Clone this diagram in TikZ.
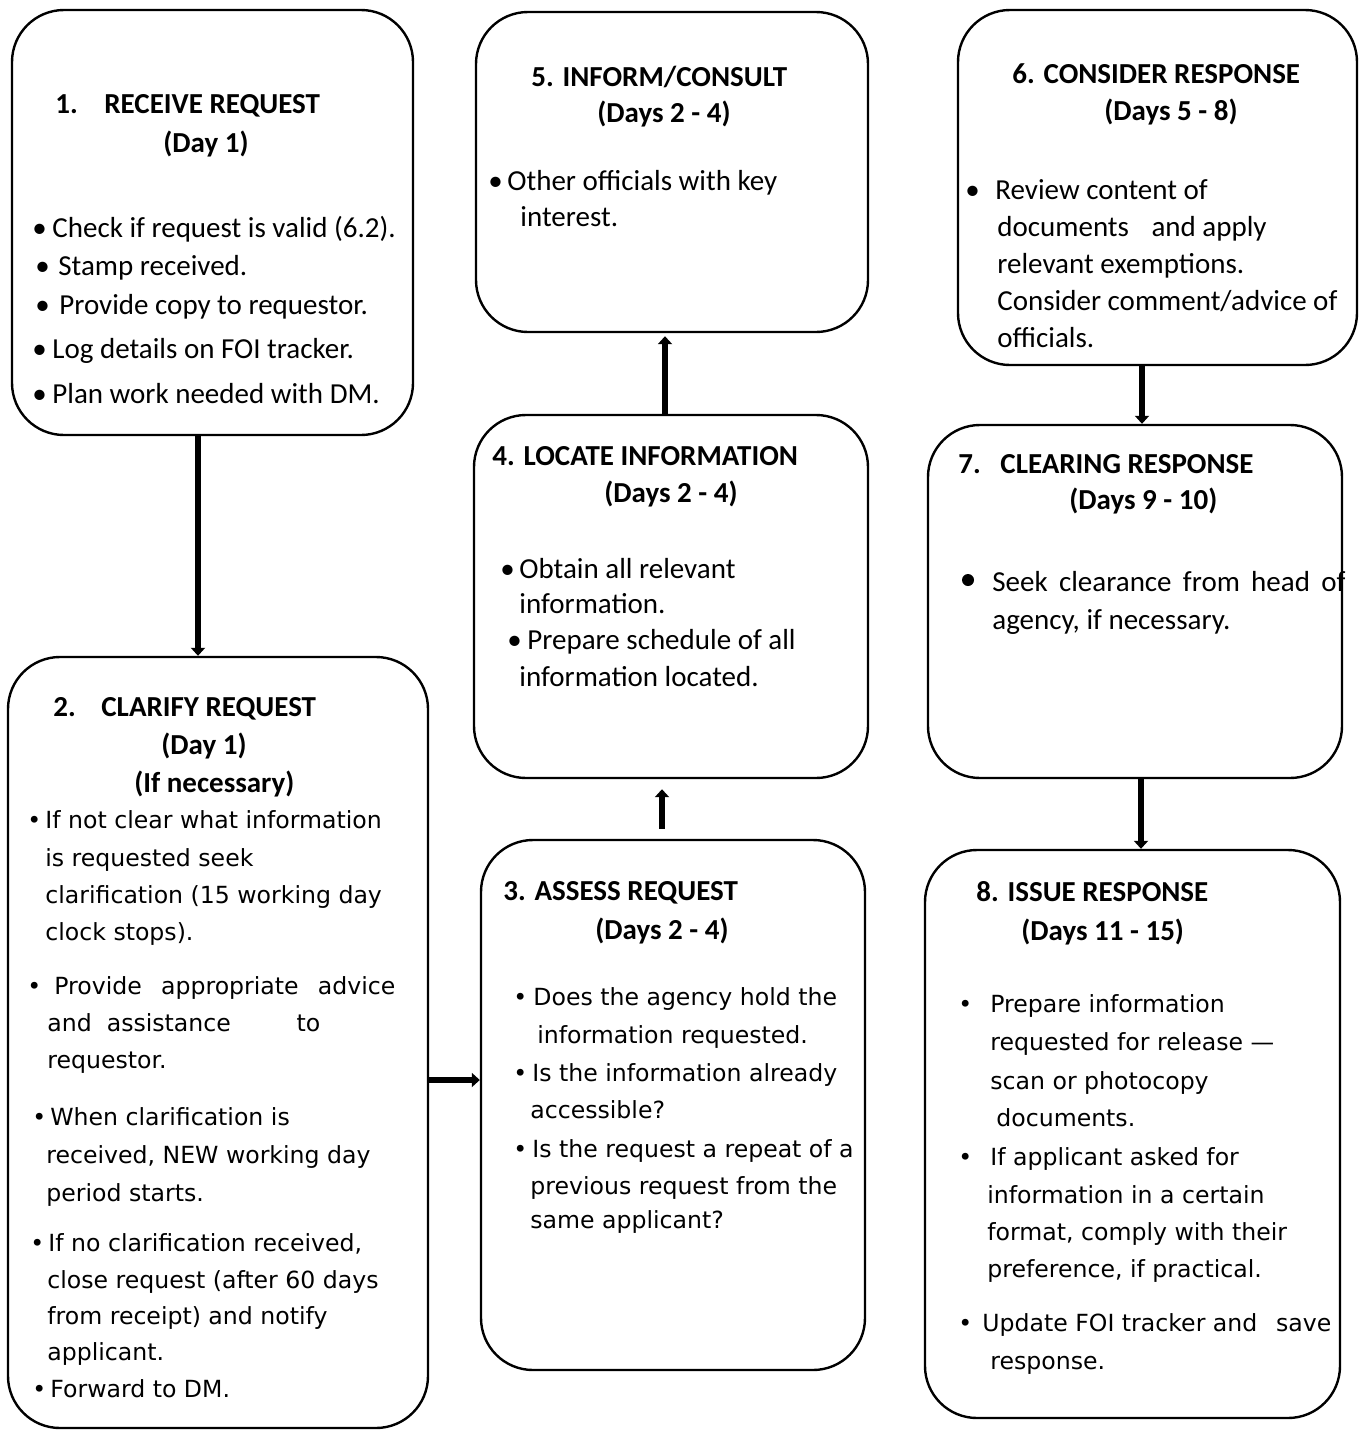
\documentclass[tikz,border=0pt]{standalone}
\usepackage{fontspec}
\setmainfont{Carlito}
\newfontfamily\dvsans{DejaVu Sans}
\usetikzlibrary{arrows.meta}

\tikzset{
	box/.style={draw, line width=1.2pt, rounded corners=26pt, inner sep=0pt},
	ttl/.style={anchor=base west, inner sep=0pt, font=\fontsize{14.5}{17}\selectfont\bfseries},
	txt/.style={anchor=base west, inner sep=0pt, font=\fontsize{14.5}{17}\selectfont},
	vtxt/.style={anchor=base west, inner sep=0pt, font=\dvsans\fontsize{11.8}{14}\selectfont},
	dot/.style={circle, fill=black, inner sep=0pt, minimum size=6pt},
	flow/.style={line width=3pt, -{Triangle[width=7pt,length=4pt]}}
}

\begin{document}
\begin{tikzpicture}[x=0.5pt,y=-0.5pt]
	\useasboundingbox (0,0) rectangle (1360,1430);
	% boxes
	\node[box, minimum width=200.5pt, minimum height=212.5pt] (s1) at (212.5,222.5) {};
	\node[box, minimum width=210pt, minimum height=385.5pt] (s2) at (218,1042.5) {};
	\node[box, minimum width=192pt, minimum height=265pt] (s3) at (673,1105) {};
	\node[box, minimum width=197pt, minimum height=181.5pt] (s4) at (671,596.5) {};
	\node[box, minimum width=196pt, minimum height=160pt] (s5) at (672,172) {};
	\node[box, minimum width=199.5pt, minimum height=177.5pt] (s6) at (1157.5,187.5) {};
	\node[box, minimum width=207pt, minimum height=176.5pt] (s7) at (1135,601.5) {};
	\node[box, minimum width=207.5pt, minimum height=284pt] (s8) at (1132.5,1134) {};

	% arrows
	\draw[flow] ([xshift=-7.25pt]s1.south) -- ([xshift=-7.25pt]s1.south |- s2.north);
	\draw[flow] ([yshift=-18.75pt]s2.east) -- ([yshift=-18.75pt]s2.east -| s3.west);
	\draw[flow, shorten <=5pt, shorten >=5pt] ([xshift=-5.5pt]s3.north) -- ([xshift=-5.5pt]s3.north |- s4.south);
	\draw[flow, shorten >=1.5pt] ([xshift=-3pt]s4.north) -- ([xshift=-3pt]s4.north |- s5.south);
	\draw[flow] ([xshift=-7.75pt]s6.south) -- ([xshift=-7.75pt]s6.south |- s7.north);
	\draw[flow] ([xshift=3pt]s7.south) -- ([xshift=3pt]s7.south |- s8.north);

	% 1
	\foreach \x/\y/\t [count=\i] in {55/113/1., 104/113/RECEIVE REQUEST, 163/152/(Day 1)}
		\node[ttl] (h1-\i) at (\x,\y) {\t};
	\foreach \x/\y/\t [count=\i] in {32/237/•, 52/237/{Check if request is valid (6.2).},
		35/275/•, 58/275/{Stamp received.}, 35/314/•, 59/314/{Provide copy to requestor.},
		32/358/•, 52/358/{Log details on FOI tracker.}, 32/403/•, 52/403/{Plan work needed with DM.}}
		\node[txt] (t1-\i) at (\x,\y) {\t};

	% 2
	\foreach \x/\y/\t [count=\i] in {53/716/2., 101/716/CLARIFY REQUEST, 161/754/(Day 1), 134/792/(If necessary)}
		\node[ttl] (h2-\i) at (\x,\y) {\t};
	\foreach \x/\y/\t [count=\i] in {27/828/•, 45/828/{If not clear what information},
		45/866/{is requested seek}, 45/903/{clarification (15 working day}, 45/940/{clock stops).},
		27/994/•, 54/994/{\makebox[170.5pt][s]{Provide appropriate advice}},
		47/1031/{\makebox[136.5pt][s]{and\ \ assistance\hfill to}}, 47/1068/{requestor.},
		32/1125/•, 50/1125/{When clarification is}, 46/1163/{received, NEW working day},
		46/1201/{period starts.}, 30/1251/•, 48/1251/{If no clarification received,},
		47/1288/{close request (after 60 days}, 47/1324/{from receipt) and notify},
		47/1360/{applicant.}, 32/1397/•, 50/1397/{Forward to DM.}}
		\node[vtxt] (t2-\i) at (\x,\y) {\t};

	% 3
	\foreach \x/\y/\t [count=\i] in {503/900/3. ASSESS REQUEST, 595/939/(Days 2 - 4)}
		\node[ttl] (h3-\i) at (\x,\y) {\t};
	\foreach \x/\y/\t [count=\i] in {513/1005/•, 533/1005/{Does the agency hold the},
		537/1043/{information requested.}, 513/1081/•, 532/1081/{Is the information already},
		530/1118/{accessible?}, 513/1157/•, 532/1157/{Is the request a repeat of a},
		530/1194/{previous request from the}, 530/1228/{same applicant?}}
		\node[vtxt] (t3-\i) at (\x,\y) {\t};

	% 4
	\foreach \x/\y/\t [count=\i] in {492/465/4. LOCATE INFORMATION, 604/502/(Days 2 - 4)}
		\node[ttl] (h4-\i) at (\x,\y) {\t};
	\foreach \x/\y/\t [count=\i] in {500/578/•, 519/578/{Obtain all relevant}, 519/613/{information.},
		507/649/•, 527/649/{Prepare schedule of all}, 519/686/{information located.}}
		\node[txt] (t4-\i) at (\x,\y) {\t};

	% 5
	\foreach \x/\y/\t [count=\i] in {531/86/{5. INFORM/CONSULT}, 597/122/(Days 2 - 4)}
		\node[ttl] (h5-\i) at (\x,\y) {\t};
	\foreach \x/\y/\t [count=\i] in {488/190/•, 507/190/{Other officials with key}, 520/226/{interest.}}
		\node[txt] (t5-\i) at (\x,\y) {\t};

	% 6
	\foreach \x/\y/\t [count=\i] in {1012/83/6. CONSIDER RESPONSE, 1104/120/(Days 5 - 8)}
		\node[ttl] (h6-\i) at (\x,\y) {\t};
	\foreach \x/\y/\t [count=\i] in {965/199/•, 995/199/{Review content of},
		997/236/{documents\hspace{8pt} and apply}, 997/273/{relevant exemptions.},
		997/310/{Consider comment/advice of}, 997/347/{officials.}}
		\node[txt] (t6-\i) at (\x,\y) {\t};

	% 7
	\foreach \x/\y/\t [count=\i] in {958/473/7., 1000/473/CLEARING RESPONSE, 1069/509/(Days 9 - 10)}
		\node[ttl] (h7-\i) at (\x,\y) {\t};
	\node[dot] (b7) at (968,580) {};
	\foreach \x/\y/\t [count=\i] in {992/591/{\makebox[176.5pt][s]{Seek clearance from head of}},
		992/629/{agency, if necessary.}}
		\node[txt] (t7-\i) at (\x,\y) {\t};

	% 8
	\foreach \x/\y/\t [count=\i] in {976/901/8. ISSUE RESPONSE, 1021/940/(Days 11 - 15)}
		\node[ttl] (h8-\i) at (\x,\y) {\t};
	\foreach \x/\y/\t [count=\i] in {958/1012/•, 990/1012/{Prepare information},
		990/1050/{requested for release —}, 990/1089/{scan or photocopy}, 996/1126/{documents.},
		958/1165/•, 990/1165/{If applicant asked for}, 987/1203/{information in a certain},
		987/1240/{format, comply with their}, 987/1277/{preference, if practical.},
		958/1331/•, 982/1331/{\makebox[174.5pt][s]{Update FOI tracker and\hfill save}},
		990/1369/{response.}}
		\node[vtxt] (t8-\i) at (\x,\y) {\t};
\end{tikzpicture}
\end{document}
